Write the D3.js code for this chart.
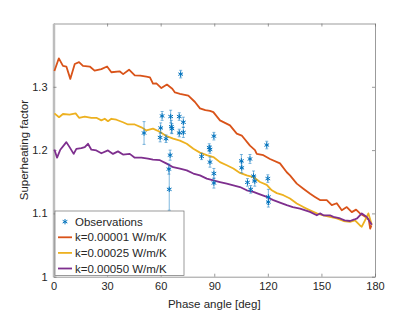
<!DOCTYPE html>
<html lang="en">
<head>
<meta charset="UTF-8">
<title>Superheating factor vs phase angle</title>
<script src="https://cdn.jsdelivr.net/npm/d3@7"></script>
<style>
    body { margin: 0; background: #fff; }
    svg { display: block; font-family: "Liberation Sans", Arial, sans-serif; }
    .tick text { fill: #262626; font-size: 11px; }
</style>
</head>
<body>
<svg id="chart"></svg>
<script>
// ---- data ----
const xTicks = [0, 30, 60, 90, 120, 150, 180];
const yTicks = [1, 1.1, 1.2, 1.3];

// k = 0.00001 W/m/K
const redAngle = [0.5, 3, 5.3, 7.2, 9.4, 11.9, 14.3, 16.5, 20.3, 23, 26.8, 30, 32.4, 37, 39, 42.3, 45.5, 48.6, 52, 54, 55.7, 57.6, 60.4, 63.5, 66.5, 68, 70.8, 75.5, 79.2, 82, 85, 87.6, 89.5, 93.2, 98.8, 102.6, 105.4, 110, 112.8, 113.8, 117.5, 121.2, 126.8, 130.6, 132.4, 136.2, 139.9, 143.7, 146.4, 149.2, 153, 155.8, 158.6, 161.4, 164.2, 167, 169.4, 171.6, 174.4, 176.5, 177.3, 178];
const redValue = [1.325, 1.345, 1.333, 1.332, 1.3125, 1.336, 1.339, 1.333, 1.332, 1.3255, 1.328, 1.332, 1.323, 1.3245, 1.320, 1.327, 1.318, 1.3176, 1.316, 1.315, 1.305, 1.3055, 1.298, 1.3035, 1.297, 1.291, 1.289, 1.286, 1.276, 1.266, 1.263, 1.262, 1.260, 1.247, 1.239, 1.226, 1.223, 1.207, 1.200, 1.194, 1.192, 1.186, 1.179, 1.165, 1.160, 1.147, 1.139, 1.131, 1.126, 1.121, 1.121, 1.113, 1.116, 1.105, 1.110, 1.102, 1.106, 1.100, 1.095, 1.090, 1.076, 1.081];

// k = 0.00025 W/m/K
const yellowAngle = [0.5, 3.1, 5.3, 9, 12.4, 14.3, 17.5, 21.2, 24, 26.8, 28.7, 30.5, 32.4, 35.2, 38.9, 41.7, 45.5, 49.2, 52, 55.7, 59.5, 63.3, 67, 70.8, 74.6, 78.3, 82, 85.8, 89.5, 93.2, 97, 100.7, 104.4, 108.2, 111.9, 115.6, 119.4, 122.2, 125, 128.7, 132.4, 136.2, 139.9, 143.6, 147.4, 151.1, 154.8, 158.6, 162.3, 166, 168.8, 171.6, 172.6, 174.4, 176.3, 178.2];
const yellowValue = [1.258, 1.252, 1.257, 1.256, 1.258, 1.251, 1.253, 1.251, 1.251, 1.247, 1.2495, 1.2457, 1.2495, 1.248, 1.244, 1.2405, 1.2405, 1.236, 1.231, 1.234, 1.229, 1.222, 1.218, 1.215, 1.210, 1.202, 1.196, 1.192, 1.189, 1.181, 1.176, 1.171, 1.164, 1.160, 1.1575, 1.1496, 1.145, 1.1365, 1.132, 1.1287, 1.1235, 1.1156, 1.110, 1.105, 1.100, 1.097, 1.0945, 1.092, 1.088, 1.0866, 1.089, 1.081, 1.079, 1.089, 1.100, 1.082];

// k = 0.00050 W/m/K
const purpleAngle = [0.5, 2, 3.8, 7.2, 9, 11.3, 12.8, 15.6, 17.5, 19.3, 21.2, 24, 26.8, 30.5, 33.3, 36.1, 38.9, 42.7, 45.5, 49.2, 52.9, 55.7, 59.6, 63.4, 67, 70.8, 74.6, 78.3, 82, 85.8, 89.5, 93.2, 97, 100.7, 104.4, 108.2, 111.9, 115.6, 119.4, 123.1, 126.8, 130.6, 134, 138, 143.6, 147.4, 149.2, 151.1, 154.8, 156.7, 160.5, 163, 166, 168.5, 170, 172.6, 175.4, 178.2];
const purpleValue = [1.201, 1.188, 1.2006, 1.2126, 1.2047, 1.194, 1.202, 1.203, 1.2047, 1.21, 1.2006, 1.1995, 1.195, 1.1995, 1.194, 1.198, 1.193, 1.194, 1.188, 1.188, 1.1865, 1.185, 1.184, 1.1786, 1.173, 1.1707, 1.168, 1.163, 1.160, 1.155, 1.152, 1.1496, 1.147, 1.1444, 1.1417, 1.1365, 1.134, 1.130, 1.126, 1.121, 1.117, 1.113, 1.110, 1.1077, 1.1024, 1.097, 1.100, 1.097, 1.097, 1.0945, 1.092, 1.089, 1.088, 1.0904, 1.092, 1.100, 1.0945, 1.082];

// observations: phase angle, superheating factor, error
const obsAngle = [50.7, 59.7, 60.0, 60.8, 63.0, 64.6, 64.8, 65.3, 65.6, 66.0, 66.3, 70.4, 70.4, 71.2, 72.7, 72.7, 82.9, 87.2, 87.6, 87.6, 89.8, 89.8, 89.8, 105.2, 105.4, 110.0, 108.6, 110.4, 112.0, 112.7, 119.4, 120.0, 120.3, 120.3];
const obsValue = [1.227, 1.220, 1.235, 1.254, 1.218, 1.170, 1.138, 1.192, 1.253, 1.237, 1.234, 1.253, 1.227, 1.320, 1.244, 1.228, 1.190, 1.204, 1.201, 1.181, 1.222, 1.163, 1.148, 1.183, 1.172, 1.186, 1.149, 1.138, 1.159, 1.151, 1.208, 1.155, 1.126, 1.118];
const obsError = [0.018, 0.007, 0.008, 0.007, 0.006, 0.008, 0.033, 0.008, 0.010, 0.010, 0.008, 0.006, 0.006, 0.006, 0.008, 0.008, 0.005, 0.006, 0.006, 0.008, 0.006, 0.008, 0.008, 0.010, 0.008, 0.007, 0.006, 0.006, 0.008, 0.008, 0.006, 0.006, 0.012, 0.008];

const seriesNames = ["k=0.00001 W/m/K", "k=0.00025 W/m/K", "k=0.00050 W/m/K"];
const seriesColors = ["#D95319", "#EDB120", "#7E2F8E"];
const obsColor = "#0072BD";

// ---- layout ----
const W = 415, H = 312;
const margin = { top: 23.5, right: 40, bottom: 35.3, left: 53.5 };
const iw = W - margin.left - margin.right;
const ih = H - margin.top - margin.bottom;

const svg = d3.select("#chart").attr("width", W).attr("height", H);
const g = svg.append("g").attr("transform", `translate(${margin.left},${margin.top})`);

const x = d3.scaleLinear().domain([0, 180]).range([0, iw]);
const y = d3.scaleLinear().domain([1, 1.4]).range([ih, 0]);

// axes with inward ticks on every side
function styleAxis(sel) {
    sel.select(".domain").attr("stroke", "#707070").attr("stroke-width", 0.7);
    sel.selectAll(".tick line").attr("stroke", "#707070").attr("stroke-width", 0.7);
}
g.append("g").attr("transform", `translate(0,${ih})`)
    .call(d3.axisBottom(x).tickValues(xTicks).tickSize(-3).tickPadding(6).tickSizeOuter(0))
    .call(styleAxis);
g.append("g")
    .call(d3.axisTop(x).tickValues(xTicks).tickSize(-3).tickFormat("").tickSizeOuter(0))
    .call(styleAxis);
g.append("g")
    .call(d3.axisLeft(y).tickValues(yTicks).tickSize(-3).tickPadding(6).tickFormat(d => d === 1 ? "1" : d3.format(".1f")(d)).tickSizeOuter(0))
    .call(styleAxis)
    .call(s => s.select(".domain").attr("stroke", "#bdbdbd").attr("stroke-width", 2.5));
g.append("g").attr("transform", `translate(${iw},0)`)
    .call(d3.axisRight(y).tickValues(yTicks).tickSize(-3).tickFormat("").tickSizeOuter(0))
    .call(styleAxis);
svg.selectAll(".tick text").attr("font-family", "Liberation Sans, Arial, sans-serif");

// model curves
const line = d3.line().x(d => x(d[0])).y(d => y(d[1]));
const curves = [
    d3.zip(redAngle, redValue),
    d3.zip(yellowAngle, yellowValue),
    d3.zip(purpleAngle, purpleValue)
];
g.selectAll("path.curve")
    .data(curves)
    .join("path")
    .attr("class", "curve")
    .attr("d", line)
    .attr("fill", "none")
    .attr("stroke", (d, i) => seriesColors[i])
    .attr("stroke-width", 1.8)
    .attr("stroke-linejoin", "round");

// observations with error bars
const obs = obsAngle.map((a, i) => ({ a, v: obsValue[i], e: obsError[i] }));
const eb = g.append("g").attr("stroke", obsColor).attr("stroke-opacity", 0.5).attr("stroke-width", 1);
obs.forEach(d => {
    const cx = x(d.a), y0 = y(d.v - d.e), y1 = y(d.v + d.e);
    eb.append("line").attr("x1", cx).attr("x2", cx).attr("y1", y0).attr("y2", y1);
    eb.append("line").attr("x1", cx - 1.5).attr("x2", cx + 1.5).attr("y1", y0).attr("y2", y0);
    eb.append("line").attr("x1", cx - 1.5).attr("x2", cx + 1.5).attr("y1", y1).attr("y2", y1);
});
const star = d3.symbol().type(d3.symbolAsterisk).size(20);
g.selectAll("path.obs")
    .data(obs)
    .join("path")
    .attr("class", "obs")
    .attr("d", star)
    .attr("transform", d => `translate(${x(d.a)},${y(d.v)})`)
    .attr("fill", "none")
    .attr("stroke", obsColor)
    .attr("stroke-width", 1);

// legend
const lg = svg.append("g").attr("transform", "translate(55,211)");
lg.append("rect").attr("width", 129).attr("height", 64.5)
    .attr("fill", "#fff").attr("stroke", "#707070").attr("stroke-width", 0.7);
lg.append("path").attr("d", star).attr("transform", "translate(10,10.7)")
    .attr("fill", "none").attr("stroke", obsColor).attr("stroke-width", 1);
lg.append("text").attr("x", 20).attr("y", 14.8).text("Observations")
    .attr("font-size", 11.5).attr("fill", "#262626");
seriesNames.forEach((name, i) => {
    const yy = 26.3 + i * 15.6;
    lg.append("line").attr("x1", 3).attr("x2", 17).attr("y1", yy).attr("y2", yy)
        .attr("stroke", seriesColors[i]).attr("stroke-width", 1.8);
    lg.append("text").attr("x", 20).attr("y", yy + 4).text(name)
        .attr("font-size", 11.5).attr("fill", "#262626");
});

// axis titles
svg.append("text")
    .attr("x", margin.left + iw / 2).attr("y", 308)
    .attr("text-anchor", "middle").attr("font-size", 11.5).attr("fill", "#262626")
    .text("Phase angle [deg]");
svg.append("text")
    .attr("transform", `translate(28,${margin.top + ih / 2}) rotate(-90)`)
    .attr("text-anchor", "middle").attr("font-size", 11.5).attr("fill", "#262626")
    .text("Superheating factor");
</script>
</body>
</html>
